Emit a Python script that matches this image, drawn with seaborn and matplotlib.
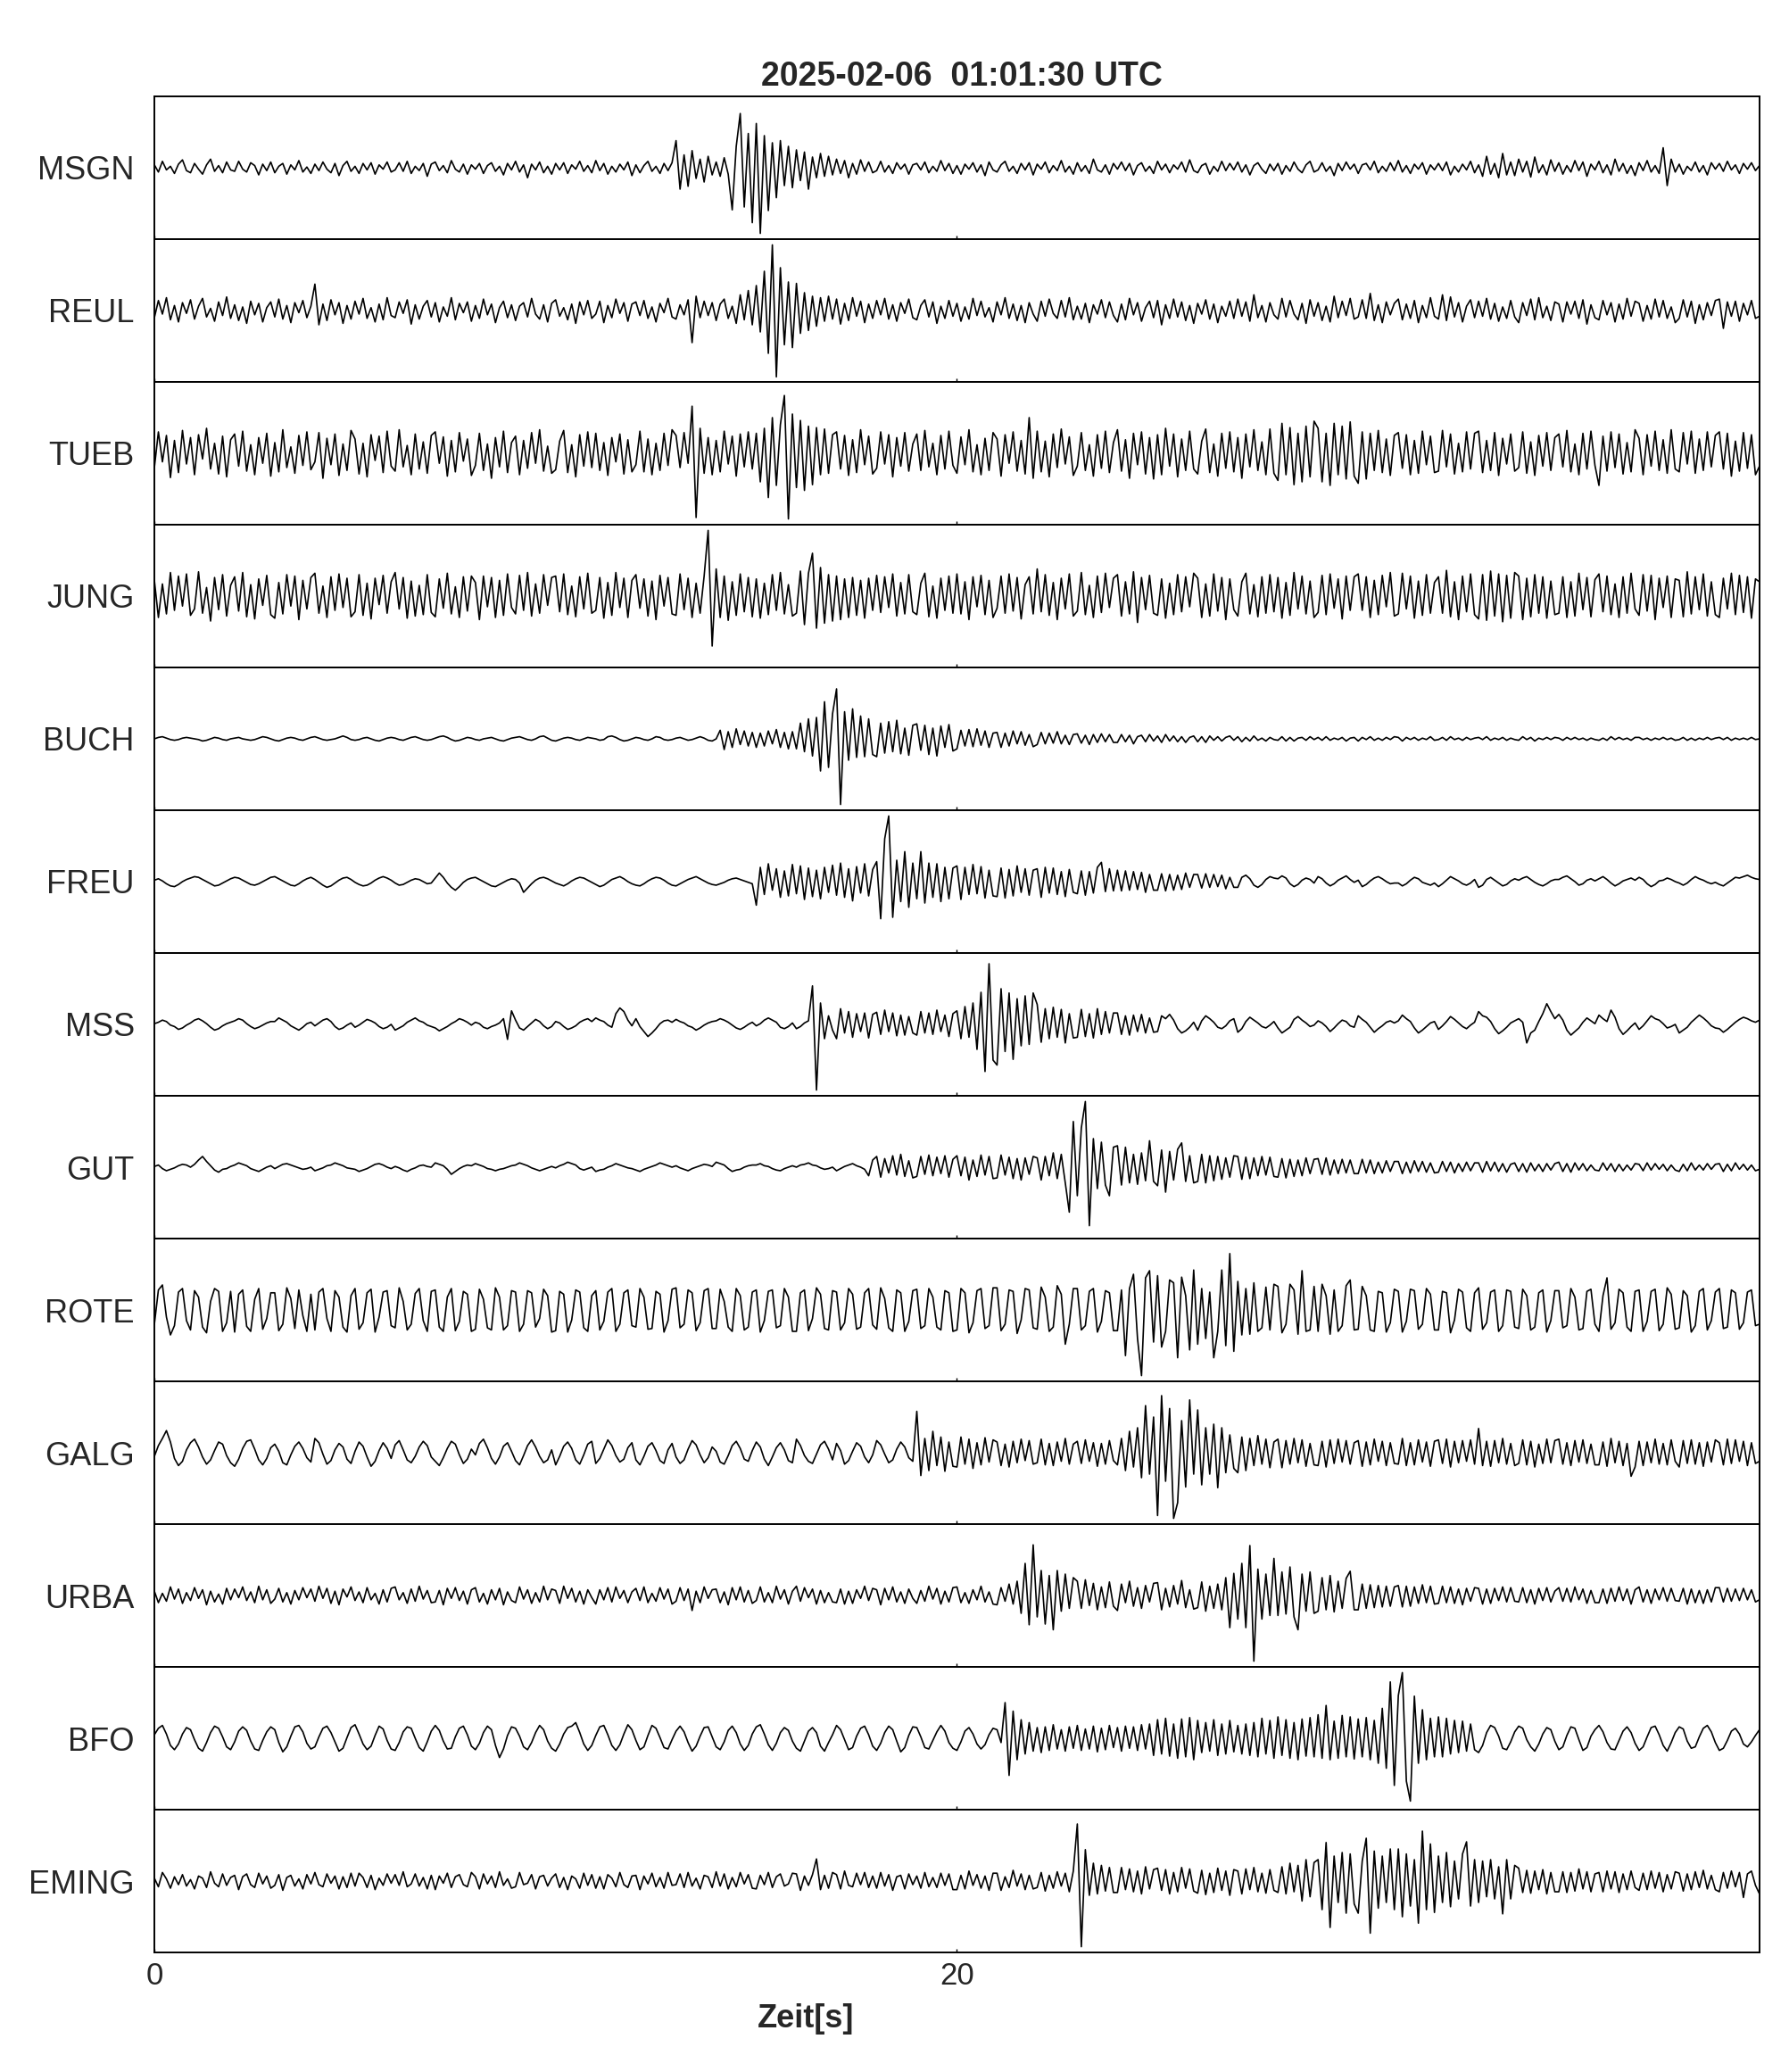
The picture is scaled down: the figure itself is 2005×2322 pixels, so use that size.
"""Seismogramm-Uebersicht 2025-02-06 01:01:30 UTC, 13 Stationen.

Spuren aus dem Bild abgelesen: eine Amplitude je 0.1 s, in Prozent der halben
Panelhoehe (jede Spur auf ihr Maximum normiert). Eine Zeile = 1 s.
"""

import matplotlib

matplotlib.use("Agg")
import matplotlib.pyplot as plt
import numpy as np
import pandas as pd
import seaborn as sns

DT = 0.1
T_MAX = 40    # Fensterlaenge [s]

STATIONS = ["MSGN", "REUL", "TUEB", "JUNG", "BUCH", "FREU", "MSS",
            "GUT", "ROTE", "GALG", "URBA", "BFO", "EMING"]
X_TICKS = [0, 20]

MSGN = [
    4, -6, 9, -3, 2, -8, 5, 11, -4, -7,
    6, -2, -9, 4, 12, -5, 3, -7, 8, -3,
    -5, 9, -2, -6, 7, 3, -10, 5, -4, 8,
    -7, 2, 6, -9, 4, -3, 10, -6, 1, -8,
    5, -4, 8, -2, -7, 6, -11, 3, 9, -5,
    2, -8, 6, -3, 7, -9, 4, -2, 8, -6,
    -3, 7, -5, 9, -8, 2, -4, 6, -12, 5,
    8, -4, 3, -7, 10, -2, -6, 5, -9, 4,
    -2, 6, -8, 3, 7, -5, 2, -10, 6, -3,
    9, -6, 4, -14, 5, -3, 8, -7, 2, -9,
    6, -3, 7, -8, 4, -2, 9, -5, 3, -7,
    10, -4, 6, -9, 2, -6, 5, -3, 8, -11,
    4, -7, 3, 9, -5, 2, -8, 6, -4, 7,
    38, -30, 18, -26, 24, -15, 12, -20, 16, -10,
    8, -12, 14, -9, -59, 30, 76, -55, 48, -77,
    62, -92, 45, -60, 35, -42, 38, -25, 30, -28,
    25, -18, 22, -30, 15, -14, 20, -12, 16, -10,
    12, -8, 10, -14, 6, -9, 11, -5, 8, -7,
    -4, 9, -6, 3, -8, 7, -2, 5, -9, 4,
    6, -3, 8, -7, 2, -5, 10, -4, 6, -8,
    3, -9, 5, -2, 7, -6, 4, -11, 8, -3,
    -6, 4, 9, -5, 2, -8, 6, -3, 7, -10,
    5, -2, 8, -7, 3, -4, 10, -6, 2, -9,
    7, -5, 3, -8, 12, -3, -6, 4, -9, 6,
    -2, 8, -4, 6, -10, 3, 7, -5, 2, -8,
    9, -3, 5, -7, 4, -2, 8, -6, 11, -4,
    -7, 3, 6, -9, 2, -5, 9, -4, 6, -3,
    8, -6, 4, -10, 3, 7, -2, -8, 5, -4,
    6, -9, 3, -5, 8, -2, -7, 4, 9, -6,
    -3, 7, -5, 2, -11, 6, -4, 8, -2, 5,
    -8, 4, 6, -3, 9, -7, 2, -5, 7, -4,
    10, -6, 3, -8, 5, -2, 7, -9, 4, -3,
    6, -4, 8, -10, 2, -6, 5, -3, 9, -7,
    4, -12, 16, -9, 6, -14, 20, -10, 8, -11,
    12, -6, 9, -13, 15, -7, 4, -10, 11, -5,
    7, -9, 3, -6, 10, -4, 8, -12, 5, -3,
    9, -7, 4, -10, 12, -5, 6, -8, 3, -11,
    7, -4, 10, -6, 3, -8, 28, -25, 12, -6,
    5, -9, 2, -4, 8, -6, 3, -10, 7, -2,
    6, -5, 9, -3, 4, -8, 6, -2, 7, -4,
    3,
]
REUL = [
    -10, 14, -5, 18, -13, 7, -16, 11, -4, 15,
    -12, 6, 17, -9, 3, -15, 12, -7, 19, -11,
    8, -14, 5, -18, 13, -6, 10, -16, 4, 12,
    -9, 16, -12, 7, -17, 11, -3, 14, -10, 6,
    37, -20, 9, -14, 15, -6, 11, -18, 7, -12,
    13, -5, 17, -11, 4, -16, 9, -13, 18, -7,
    -10, 12, -4, 15, -19, 8, -12, 6, 14, -9,
    11, -16, 5, -8, 18, -13, 10, -3, 12, -15,
    7, -11, 16, -6, 9, -17, 4, 13, -10, 8,
    -14, 6, 11, -9, 17, -5, -12, 8, -16, 10,
    15, -8, 4, -13, 9, -18, 12, -6, 14, -11,
    -5, 13, -17, 7, -10, 16, -4, 11, -15, 9,
    12, -7, 14, -11, 5, -16, 10, -3, 17, -9,
    -12, 8, -6, 15, -45, 20, -10, 13, -7, 11,
    -14, 9, 16, -11, 6, -18, 22, -13, 28, -20,
    35, -30, 55, -60, 92, -93, 60, -48, 40, -52,
    38, -32, 25, -28, 20, -22, 18, -15, 20, -12,
    16, -19, 10, -14, 18, -8, 13, -17, 9, -11,
    14, -6, 17, -12, 8, -15, 11, -4, 16, -10,
    -13, 7, 15, -9, 12, -18, 6, -11, 14, -8,
    10, -15, 5, -12, 17, -7, 13, -9, 4, -16,
    12, -6, 18, -11, 9, -14, 7, -17, 11, -5,
    -15, 13, -8, 16, -4, -11, 14, -9, 18, -13,
    6, -12, 10, -17, 8, -5, 15, -10, 12, -7,
    -16, 9, -13, 17, -6, 11, -15, 4, 13, -10,
    14, -20, 8, -11, 16, -9, 12, -14, 7, -18,
    10, -5, 15, -12, 9, -17, 6, -8, 13, -11,
    16, -8, 12, -15, 22, -10, 7, -16, 11, -6,
    -12, 17, -9, 14, -5, -13, 10, -18, 15, -8,
    11, -14, 6, -16, 20, -10, 13, -7, 17, -12,
    -9, 15, -11, 24, -14, 8, -17, 12, -6, 10,
    16, -13, 9, -11, 14, -17, 7, -10, 18, -8,
    -12, 22, -14, 19, -9, 11, -16, 6, 15, -10,
    13, -8, 17, -12, 10, -15, 5, -11, 14, -9,
    -17, 11, -7, 16, -13, 18, -10, 6, -14, 12,
    9, -16, 12, -5, 13, -11, 15, -19, 8, -10,
    -13, 14, -6, 11, -16, 9, -12, 17, -8, 13,
    10, -15, 7, -12, 16, -9, 14, -11, 5, -17,
    -11, 15, -9, 13, -18, 8, -13, 11, -7, 14,
    16, -25, 12, -8, 13, -15, 10, -6, 14, -11,
    -8,
]
TUEB = [
    -20, 30, -12, 25, -34, 18, -27, 32, -15, 22,
    -30, 26, -8, 35, -22, 14, -29, 24, -33, 19,
    27, -18, 31, -25, 12, -30, 22, -14, 28, -32,
    15, -26, 33, -20, 9, -28, 25, -17, 30, -23,
    -12, 29, -35, 21, -16, 27, -31, 13, -24, 32,
    20, -29, 14, -33, 26, -10, 24, -27, 31, -18,
    -25, 33, -19, 11, -30, 27, -22, 16, -28, 25,
    30, -14, 23, -32, 18, -26, 29, -11, 20, -31,
    -17, 28, -24, 13, -35, 22, -19, 31, -27, 15,
    24, -30, 18, -21, 29, -14, 33, -25, 10, -28,
    -23, 17, 32, -27, 12, -33, 26, -18, 30, -20,
    28, -24, 15, -31, 22, -12, 27, -29, 19, -26,
    -16, 31, -26, 20, -30, 14, -24, 28, -17, 33,
    25, -20, 29, -14, 66, -90, 35, -28, 22, -30,
    18, -26, 31, -15, 24, -32, 27, -19, 30, -22,
    28, -40, 35, -62, 50, -45, 40, 81, -92, 55,
    -48, 46, -52, 38, -44, 36, -30, 34, -28, 26,
    30, -22, 25, -31, 19, -27, 33, -16, 24, -29,
    -21, 30, -15, 26, -33, 22, -18, 29, -25, 13,
    27, -24, 32, -19, 14, -30, 25, -22, 31, -17,
    -28, 23, -16, 33, -26, 12, -30, 21, -24, 29,
    20, -32, 26, -14, 30, -25, 18, -29, 50, -35,
    31, -26, 17, -33, 27, -20, 34, -15, 23, -31,
    -18, 29, -24, 12, -32, 26, -21, 31, -27, 15,
    33, -25, 19, -35, 28, -16, 30, -29, 22, -36,
    26, -30, 35, -18, 27, -33, 20, -24, 31, -22,
    -29, 17, 34, -27, 13, -32, 28, -21, 30, -26,
    22, -35, 27, -19, 33, -24, 16, -30, 34, -28,
    -38, 42, -30, 36, -44, 28, -40, 38, -33, 45,
    35, -40, 28, -45, 42, -30, 38, -36, 44, -32,
    -42, 30, -36, 28, -24, 32, -27, 20, -31, 25,
    29, -21, 26, -30, 18, -28, 31, -16, 24, -27,
    -25, 32, -19, 27, -29, 14, -26, 30, -22, 28,
    31, -27, 18, -24, 29, -31, 21, -15, 27, -25,
    -20, 30, -28, 16, -31, 25, -18, 29, -24, 22,
    27, -19, 32, -26, 13, -30, 28, -22, 31, -17,
    -45, 24, -25, 30, -20, 27, -29, 15, -26, 33,
    21, -30, 26, -18, 31, -24, 19, -28, 33, -22,
    -26, 29, -15, 31, -28, 20, -24, 30, -19, 25,
    30, -22, 28, -32, 17, -25, 29, -21, 26, -30,
    -18,
]
JUNG = [
    22, -30, 17, -25, 33, -20, 28, -14, 31, -27,
    -18, 34, -24, 12, -35, 26, -19, 30, -28, 15,
    27, -21, 33, -29, 16, -32, 24, -13, 29, -26,
    -31, 19, -25, 30, -14, 28, -33, 22, -18, 26,
    32, -24, 14, -30, 27, -20, 31, -16, 25, -29,
    -22, 30, -27, 18, -32, 25, -12, 29, -24, 20,
    33, -18, 26, -31, 21, -28, 15, -26, 30, -23,
    -29, 24, -17, 32, -25, 13, -30, 27, -21, 28,
    19, -33, 28, -15, 26, -30, 22, -27, 31, -16,
    -25, 29, -20, 33, -28, 17, -24, 30, -13, 26,
    28, -22, 31, -26, 14, -29, 27, -18, 32, -24,
    -20, 26, -31, 19, -27, 33, -16, 25, -30, 22,
    30, -17, 24, -28, 21, -33, 29, -14, 26, -25,
    -27, 31, -19, 25, -30, 18, -24, 28, 92, -70,
    38, -30, 28, -34, 20, -27, 31, -22, 26, -29,
    24, -31, 18, -26, 30, -20, 33, -25, 16, -28,
    -24, 35, -40, 32, 60, -45, 40, -38, 30, -35,
    28, -33, 24, -30, 26, -27, 22, -31, 25, -20,
    29, -23, 27, -16, 31, -28, 19, -25, 30, -22,
    -26, 18, 32, -29, 14, -31, 25, -20, 28, -24,
    31, -25, 20, -33, 27, -15, 29, -26, 22, -30,
    -17, 28, -24, 31, -21, 26, -32, 16, 27, -25,
    38, -22, 30, -27, 19, -33, 25, -18, 31, -28,
    -21, 33, -26, 15, -30, 28, -23, 32, -16, 25,
    30, -28, 20, -25, 34, -37, 26, -19, 29, -24,
    -27, 24, -31, 18, -26, 30, -22, 27, -15, 32,
    25, -30, 17, -28, 31, -21, 26, -33, 24, -19,
    -28, 20, 32, -25, 16, -29, 27, -24, 30, -22,
    26, -31, 19, -27, 33, -18, 28, -25, 21, -30,
    -23, 29, -26, 31, -17, 24, -32, 28, -20, 27,
    31, -20, 27, -30, 22, -26, 29, -15, 33, -28,
    -25, 32, -18, 28, -31, 21, -27, 30, -24, 19,
    27, -24, 36, -29, 20, -33, 28, -22, 31, -26,
    -32, 30, -34, 35, -28, 31, -36, 29, -31, 33,
    28, -33, 25, -29, 30, -24, 27, -31, 21, -26,
    -24, 27, -30, 20, -28, 32, -19, 26, -29, 23,
    31, -22, 28, -26, 17, -30, 27, -24, 32, -18,
    -27, 30, -21, 29, -33, 25, -16, 28, -30, 24,
    22, -29, 34, -25, 27, -19, 31, -28, 20, -26,
    -30, 25, -18, 32, -26, 29, -23, 27, -31, 24,
    20,
]
BUCH = [
    0, 2, 3, 1, -1, -2, -1, 1, 2, 1,
    0, -1, -3, -2, 0, 2, 1, -1, -2, 0,
    1, 2, 0, -1, -2, -1, 1, 3, 2, 0,
    -2, -3, -1, 1, 2, 1, -1, -2, 0, 2,
    3, 1, -1, -2, -1, 0, 2, 4, 2, -1,
    -2, -1, 1, 2, 0, -2, -3, -1, 1, 2,
    1, -1, -2, 0, 2, 3, 1, -1, -2, -1,
    1, 3, 4, 2, -1, -3, -2, 0, 2, 1,
    -1, -2, 0, 1, 2, 0, -2, -3, -1, 1,
    2, 3, 1, -1, -2, 0, 3, 4, 1, -2,
    -3, -1, 1, 2, 1, -1, -2, 0, 2, 1,
    0, -2, -1, 3, 4, 2, -1, -3, -2, 0,
    2, 1, -1, -2, 0, 3, 2, -1, -2, -1,
    1, 2, 0, -2, -1, 1, 3, 1, -2, -3,
    0, 12, -15, 10, -12, 14, -8, 11, -10, 9,
    -12, 8, -10, 11, -7, 13, -12, 9, -14, 10,
    -14, 22, -18, 28, -24, 30, -45, 52, -40, 35,
    70, -92, 38, -30, 42, -26, 32, -25, 28, -22,
    -25, 22, -20, 24, -18, 26, -21, 15, -23, 19,
    21, -16, 19, -22, 15, -24, 18, -12, 20, -17,
    -14, 12, -10, 13, -11, 14, -9, 11, -12, 8,
    9, -12, 8, -10, 11, -7, 10, -9, 6, -11,
    -8, 9, -7, 8, -6, 10, -7, 5, -8, 6,
    7, -6, 5, -8, 6, -5, 7, -4, 6, -5,
    -5, 6, -4, 5, -7, 3, 5, -4, 6, -3,
    4, -5, 6, -3, 4, -4, 3, -5, 2, 4,
    -4, 3, -5, 4, -2, 3, -3, 2, 4, -2,
    3, -4, 2, -3, 4, -2, 1, -3, 2, -1,
    -2, 3, -3, 2, -3, 1, 2, -2, 3, -1,
    2, -2, 3, -2, 1, -1, 2, -3, 1, 2,
    -3, 2, -1, 3, -2, 1, -2, 2, -1, 3,
    2, -3, 2, -1, 2, -2, 1, -1, 3, -2,
    -1, 2, -2, 3, -1, 1, -2, 2, -1, 1,
    2, -1, 3, -2, 1, -1, 2, -2, 1, -1,
    -2, 3, -1, 2, -3, 1, -1, 2, -1, 2,
    1, -2, 2, -1, 2, -1, 1, -2, 1, -1,
    -2, 1, -2, 3, -1, 2, -1, 1, -2, 2,
    2, -1, 1, -2, 1, -1, 2, -1, 1, -2,
    -1, 2, -2, 1, -2, 1, -1, 2, -1, 1,
    2, -1, 2, -2, 1, -1, 1, -1, 2, -1,
    0,
]
FREU = [
    2, 4, 1, -3, -6, -7, -4, 0, 3, 5,
    7, 6, 3, 0, -3, -6, -5, -2, 1, 4,
    6, 5, 2, -1, -4, -5, -3, 0, 3, 6,
    7, 4, 1, -2, -5, -6, -3, 1, 4, 6,
    3, -1, -5, -8, -6, -2, 2, 5, 6, 3,
    -1, -4, -6, -5, -2, 2, 5, 7, 5, 2,
    -2, -5, -4, -1, 2, 4, 3, 0, -3, -2,
    5, 12, 6, -2, -8, -12, -7, -1, 3, 5,
    6, 3, 0, -3, -6, -7, -4, -1, 2, 4,
    3, -2, -15, -9, -3, 2, 5, 6, 4, 1,
    -2, -4, -6, -3, 1, 4, 6, 5, 2, -1,
    -4, -7, -5, -1, 3, 5, 7, 4, 0, -3,
    -5, -6, -3, 1, 4, 6, 5, 2, -2, -5,
    -6, -3, 0, 3, 5, 7, 4, 1, -2, -4,
    -5, -3, -1, 2, 4, 5, 3, 1, -1, -3,
    -33, 20, -18, 25, -12, 18, -22, 15, -20, 24,
    -17, 22, -25, 19, -21, 16, -24, 20, -15, 23,
    -19, 26, -22, 18, -27, 21, -16, 25, -20, 17,
    28, -52, 60, 92, -50, 30, -28, 42, -36, 26,
    -24, 42, -30, 26, -22, 25, -28, 20, -24, 19,
    22, -25, 20, -18, 24, -17, 21, -23, 16, -20,
    -21, 19, -23, 17, -20, 22, -15, 18, -19, 16,
    18, -22, 20, -16, 19, -18, 14, -21, 17, -15,
    -17, 15, -19, 14, -16, 20, 27, -14, 18, -13,
    16, -13, 15, -12, 14, -11, 13, -15, 10, -12,
    -12, 11, -13, 10, -12, 9, -11, 12, -8, 10,
    10, -9, 11, -8, 10, -7, 9, -10, 6, -8,
    -8, 6, 9, 4, -5, -8, -4, 3, 7, 5,
    4, 8, 5, -3, -7, -4, 2, 5, 3, -2,
    7, 4, -2, -6, -3, 2, 5, 8, 3, -1,
    2, -7, -4, 1, 5, 7, 4, 0, -3, -2,
    -2, -6, -3, 2, 6, 4, -1, -3, -5, -2,
    -7, -3, 2, 7, 4, 1, -3, -5, -2, 3,
    -8, -5, 3, 6, 2, -2, -6, -4, 1, 4,
    2, 5, 7, 3, -1, -4, -6, -3, 1, 3,
    3, 6, 8, 4, 0, -5, -3, 2, 4, 1,
    4, 7, 3, -2, -6, -3, 1, 3, 5, 2,
    6, 3, -3, -7, -4, 1, 2, 5, 3, 0,
    -2, -5, -2, 3, 7, 4, 2, -1, -3, -1,
    -4, -6, -2, 2, 6, 5, 7, 9, 6, 4,
    3,
]
MSS = [
    1, 3, 6, 4, -1, -3, -7, -5, -1, 2,
    6, 8, 5, 1, -4, -8, -6, -2, 1, 3,
    5, 8, 6, 1, -3, -6, -4, -1, 2, 4,
    4, 9, 6, 3, -2, -5, -8, -4, 1, 3,
    -2, 2, 6, 8, 4, -3, -7, -5, -1, 2,
    -4, -1, 3, 7, 5, 2, -3, -6, -4, 0,
    -8, -5, -2, 3, 6, 9, 5, 3, -1, -3,
    -5, -9, -6, -3, 1, 4, 8, 6, 3, -1,
    3, 1, -4, -6, -3, -1, 2, 8, -21, 19,
    6, -5, -8, -3, 2, 7, 4, -2, -6, -3,
    4, 2, -3, -7, -5, -2, 3, 6, 8, 4,
    9, 6, 4, -1, -4, 15, 23, 18, 6, -2,
    8, -3, -10, -17, -12, -6, 1, 5, 6, 3,
    7, 4, 2, -2, -4, -8, -5, -1, 2, 4,
    5, 8, 6, 3, -1, -5, -7, -4, 0, 3,
    -2, 1, 6, 9, 6, 3, -4, -6, -3, 2,
    -6, -3, 2, 5, 54, -92, 30, -20, 12, -8,
    -20, 22, -12, 18, -18, 15, -10, 16, -19, 14,
    17, -14, 20, -10, 16, -16, 13, -15, 11, -12,
    -15, 18, -12, 16, -14, 20, -10, 13, -17, 15,
    19, -20, 25, -18, 30, -35, 45, -66, 85, -50,
    -57, 50, -38, 44, -49, 36, -30, 40, -28, 44,
    28, -25, 22, -20, 24, -18, 21, -26, 15, -19,
    -18, 21, -17, 15, -19, 22, -14, 18, -12, 16,
    16, -14, 12, -15, 13, -10, 14, -12, 9, -11,
    -10, 12, 8, 14, 6, -6, -12, -9, -4, 3,
    -8, 5, 12, 8, 3, -4, -6, -2, 5, 8,
    -11, -6, 4, 10, 6, 2, -3, -5, -1, 4,
    -5, -12, -8, -4, 7, 11, 6, 2, -3, -1,
    5, 2, -3, -10, -5, 1, 6, 4, -2, -4,
    12, 7, 3, -4, -11, -6, -2, 3, 5, 2,
    5, 13, 8, 4, -5, -12, -8, -3, 2, 4,
    -7, -2, 4, 11, 7, 2, -3, -6, -1, 3,
    18, 12, 10, 4, -6, -13, -9, -4, 2, 5,
    8, 3, -26, -12, -8, 4, 15, 29, 18, 8,
    14, 6, -8, -15, -10, -5, 3, 9, 5, 1,
    13, 8, 4, 20, 10, -6, -14, -9, -3, 2,
    -7, -2, 5, 12, 8, 6, 1, -5, -3, 0,
    -12, -8, -4, 3, 8, 13, 9, 4, -2, -5,
    -6, -11, -7, -2, 3, 7, 10, 8, 5, 3,
    6,
]
GUT = [
    1, 3, -2, -5, -3, -1, 2, 4, 3, 0,
    4, 10, 15, 8, 2, -4, -7, -3, -2, 1,
    3, 6, 4, 2, -2, -4, -6, -3, 0, 2,
    -2, 1, 4, 5, 3, 1, -1, -3, -2, 0,
    -5, -3, -1, 2, 3, 6, 4, 2, -1, -2,
    -3, -6, -4, -2, 1, 4, 5, 3, 0, -2,
    1, -1, -4, -6, -3, -1, 2, 3, 1, 0,
    6, 4, 2, -3, -10, -6, -2, 1, 3, 2,
    5, 3, 1, -2, -3, -5, -3, -2, 0, 2,
    3, 6, 4, 2, -1, -3, -5, -3, -1, 1,
    -1, 2, 4, 7, 5, 3, -2, -4, -2, 0,
    -6, -4, -3, 0, 2, 5, 3, 1, -1, -2,
    -4, -6, -3, -1, 1, 3, 6, 4, 2, 0,
    2, -1, -3, -5, -2, 0, 2, 4, 3, 1,
    7, 5, 3, -2, -6, -4, -3, 0, 2, 3,
    3, 5, 2, 1, -2, -4, -5, -2, 0, 2,
    0, 3, 4, 6, 3, 2, -1, -3, -2, 0,
    -5, -2, 1, 3, 5, 2, 0, -3, -12, 10,
    15, -14, 12, -8, 16, -11, 18, -13, 9, -15,
    -13, 15, -10, 17, -12, 14, -9, 16, -14, 11,
    16, -12, 14, -18, 10, -13, 17, -11, 15, -16,
    -15, 17, -11, 14, -16, 12, -18, 13, -10, 15,
    13, -18, 15, -12, 20, -16, 18, -22, -63, 64,
    -40, 55, 92, -82, 40, -30, 35, -25, -40, 28,
    30, -25, 28, -22, 18, -24, 20, -19, 37, -20,
    -26, 24, -35, 22, -18, 25, 34, -20, 16, -22,
    -20, 18, -22, 16, -19, 15, -17, 13, -14, 16,
    15, -17, 14, -16, 13, -12, 15, -11, 14, -13,
    -14, 12, -15, 11, -13, 10, -12, 13, -9, 11,
    12, -10, 13, -11, 10, -9, 11, -8, 10, -9,
    -9, 11, -8, 10, -9, 7, -8, 9, -6, 8,
    8, -9, 7, -8, 9, -6, 8, -7, 6, -8,
    -7, 8, -6, 7, -8, 5, -6, 7, -5, 6,
    6, -7, 8, -5, 7, -6, 5, -7, 4, 6,
    -6, 5, -7, 6, -5, 4, -6, 5, -4, 5,
    7, -6, 5, -7, 6, -4, 5, -5, 3, -4,
    -5, 6, -4, 5, -6, 4, -5, 3, -4, 5,
    4, -5, 6, -4, 5, -3, 4, -5, 3, -4,
    -6, 4, -5, 6, -4, 3, -4, 5, -3, 4,
    5, -6, 4, -5, 6, -3, 4, -4, 3, -5,
    -3,
]
ROTE = [
    -20, 28, 35, -10, -35, -22, 25, 30, -15, -28,
    27, 18, -24, -32, 12, 30, 26, -30, -18, 26,
    -31, 22, 28, -23, -30, 15, 30, -27, -12, 24,
    24, -29, -20, 31, 16, -26, 28, -8, -30, 22,
    -28, 25, 30, -12, -30, 27, 18, -24, -31, 20,
    30, -27, -18, 24, 29, -31, -10, 25, 27, -22,
    -25, 31, 12, -28, -20, 23, 30, -15, -30, 26,
    28, -24, -30, 18, 30, -29, -16, 26, 22, -30,
    -27, 29, 15, -25, -28, 31, 18, -28, -22, 27,
    25, -30, -20, 27, 24, -24, -12, 29, 20, -31,
    -29, 26, 22, -31, -14, 28, 25, -25, -30, 20,
    27, -28, -16, 25, 30, -30, -20, 24, 28, -22,
    -24, 30, 18, -27, -26, 26, 22, -31, -15, 29,
    31, -25, -20, 28, 24, -29, -18, 27, 30, -26,
    -26, 29, 12, -24, -30, 30, 20, -28, -24, 25,
    28, -31, -15, 26, 28, -25, -22, 30, 18, -30,
    -30, 24, 28, -29, -12, 31, 22, -26, -28, 27,
    25, -28, -18, 30, 22, -27, -24, 24, 30, -21,
    -27, 31, 16, -25, -30, 28, 24, -30, -16, 27,
    29, -26, -22, 30, 18, -24, -28, 27, 24, -30,
    -28, 30, 24, -32, -18, 27, 30, -26, -22, 31,
    31, -29, -20, 28, 26, -33, -14, 30, 28, -25,
    -27, 32, 18, -30, -24, 34, 22, -48, -20, 30,
    30, -28, -22, 26, 30, -31, -16, 27, 24, -29,
    -29, 28, -64, 30, 50, -40, -92, 45, 55, -45,
    48, -52, -30, 42, 38, -67, 46, 20, -56, 56,
    -48, 30, -40, 25, -67, -30, 56, -50, 79, -58,
    40, -35, 30, -34, 38, -30, -25, 32, -28, 36,
    33, -32, -20, 36, 28, -34, 55, -30, -28, 33,
    -30, 36, 20, -34, 28, -30, -22, 34, 42, -28,
    -27, 33, 20, -28, -30, 26, 24, -31, -18, 29,
    26, -31, -16, 29, 27, -27, -20, 30, 22, -28,
    -28, 26, 24, -32, -14, 29, 25, -25, -30, 24,
    31, -27, -18, 25, 28, -30, -22, 28, 26, -24,
    -26, 29, 20, -28, -24, 24, 28, -31, -15, 27,
    27, -25, -22, 30, 18, -28, -26, 26, 29, -20,
    -30, 20, 45, -27, -18, 29, 24, -24, -30, 26,
    28, -30, -16, 26, 29, -29, -20, 31, 22, -27,
    -25, 27, 20, -31, -22, 26, 30, -28, -15, 25,
    30, -26, -24, 28, 24, -27, -18, 25, 28, -22,
    -20,
]
GALG = [
    -5, 10, 20, 31, 15, -8, -18, -12, 4, 14,
    19, 8, -6, -16, -10, 3, 15, 12, -4, -14,
    -19, -9, 6, 16, 18, 5, -10, -17, -8, 7,
    12, 2, -14, -17, -3, 9, 15, 6, -7, -13,
    20, 14, -2, -16, -11, 4, 13, 8, -9, -15,
    2, 15, 9, -6, -19, -12, 3, 14, 6, -8,
    11, 17, 4, -10, -14, -5, 8, 16, 10, -6,
    -12, -18, -7, 6, 16, 12, -3, -15, -9, 5,
    -3, 13, 19, 7, -8, -16, -6, 9, 14, 2,
    -11, -17, -4, 10, 18, 8, -5, -14, -10, 4,
    -17, -5, 9, 15, 6, -10, -16, -3, 12, 16,
    -15, -8, 5, 18, 10, -4, -13, -9, 7, 14,
    -10, -17, -5, 9, 14, 3, -11, -15, 4, 13,
    -6, -15, -10, 5, 17, 11, -3, -14, -7, 8,
    2, -13, -16, -4, 10, 16, 6, -9, -12, 3,
    15, 8, -9, -18, -6, 7, 14, 4, -11, -14,
    19, 10, -4, -12, -15, -2, 11, 16, 5, -10,
    13, 3, -16, -11, 2, 14, 9, -6, -14, -3,
    17, 11, -2, -14, -10, 5, 15, 8, -7, -12,
    58, -32, 20, -25, 30, -18, 22, -26, 15, -19,
    -20, 22, -16, 19, -22, 14, -17, 21, -13, 18,
    15, -18, 12, -20, 16, -14, 19, -11, 17, -16,
    -14, 19, -17, 13, -18, 15, -12, 20, -16, 12,
    16, -15, 18, -12, 14, -19, 13, -16, 17, -11,
    -17, 20, -25, 30, -20, 35, -35, 66, -30, 50,
    -88, 80, -40, 62, -92, -70, 45, -48, 74, -30,
    60, -45, 35, -30, 40, -49, 35, -28, 25, -22,
    -28, 22, -25, 20, -18, 24, -16, 19, -21, 15,
    19, -21, 17, -16, 20, -14, 18, -19, 13, -17,
    -18, 16, -20, 18, -15, 19, -13, 17, -16, 14,
    17, -19, 15, -17, 19, -12, 16, -18, 14, -15,
    -16, 20, -18, 14, -17, 18, -13, 15, -19, 16,
    18, -15, 19, -20, 16, -14, 17, -12, 18, -16,
    34, -18, 16, -19, 17, -14, 20, -16, 13, -18,
    -15, 18, -17, 16, -20, 12, -15, 19, -14, 17,
    19, -16, 14, -18, 17, -13, 18, -15, 12, -17,
    -17, 15, -19, 20, -14, 16, -18, 13, -33, -20,
    16, -18, 15, -14, 19, -16, 13, -17, 18, -12,
    -20, 17, -15, 18, -16, 14, -19, 15, -13, 18,
    14, -17, 19, -15, 18, -12, 16, -18, 14, -15,
    -12,
]
URBA = [
    6, -10, 3, -8, 12, -5, 9, -11, 4, -7,
    11, -4, 8, -13, 6, -9, 2, -12, 10, -6,
    9, -3, 12, -7, 5, -10, 13, -6, 8, -11,
    -5, 10, -9, 4, -12, 7, -6, 11, -3, 9,
    -8, 13, -4, 10, -11, 6, -13, 9, -2, 12,
    -7, 5, -10, 11, -6, 3, -12, 8, -9, 10,
    12, -6, 4, -11, 9, -8, 13, -5, 7, -10,
    -9, 7, -13, 10, -4, 11, -7, 6, -12, 8,
    11, -9, 3, -12, 8, -6, 10, -13, 5, -7,
    -10, 12, -5, 8, -11, 4, -9, 13, -6, 9,
    7, -11, 13, -4, 10, -9, 6, -12, 8, -3,
    -12, 8, -6, 11, -9, 12, -4, 7, -10, 5,
    10, -7, 12, -10, 3, -8, 11, -5, 9, -12,
    -8, 11, -7, 9, -21, 6, -10, 12, -4, 8,
    9, -10, 5, -13, 11, -6, 12, -9, 7, -11,
    -7, 12, -9, 4, -10, 13, -5, 8, -12, 6,
    13, -8, 11, -3, 9, -12, 7, -10, 4, -9,
    -10, 9, -12, 6, -11, 8, -4, 13, -7, 10,
    8, -13, 10, -6, 12, -9, 5, -11, 9, -4,
    -11, 7, -8, 13, -5, 10, -12, 6, -9, 11,
    12, -10, 4, -11, 8, -6, 13, -9, 5, -12,
    -13, 11, -8, 16, -12, 20, -25, 45, -41, 71,
    -30, 35, -40, 28, -48, 35, -22, 30, -18, 25,
    20, -18, 22, -14, 17, -20, 12, -17, 19, -15,
    -21, 16, -10, 20, -15, 11, -18, 14, -9, 17,
    18, -20, 10, -16, 14, -12, 21, -17, 8, -19,
    -17, 19, -22, 13, -18, 16, -20, 25, -45, 31,
    -33, 45, -45, 70, -92, 37, -33, 30, -28, 52,
    -28, 33, -26, 40, -30, -48, 30, -22, 33, -25,
    -22, 25, -20, 28, -23, 20, -18, 24, 34, -20,
    -20, 16, -18, 15, -17, 14, -16, 13, -15, 12,
    14, -16, 13, -15, 12, -11, 15, -10, 13, -12,
    -11, 13, -10, 12, -11, 9, -13, 10, -8, 11,
    10, -12, 9, -11, 10, -7, 12, -9, 11, -8,
    -9, 11, -10, 8, -12, 10, -7, 11, -9, 6,
    11, -8, 10, -9, 12, -6, 9, -11, 7, -10,
    -10, 9, -11, 10, -8, 12, -7, 9, -12, 8,
    12, -9, 8, -11, 9, -6, 11, -8, 10, -7,
    -8, 10, -12, 9, -10, 7, -11, 8, -9, 11,
    11, -9, 10, -8, 9, -7, 10, -6, 8, -9,
    -6,
]
BFO = [
    5, 14, 18, 6, -10, -16, -8, 6, 15, 12,
    -2, -14, -18, -6, 8, 17, 14, 2, -12, -16,
    -5, 10, 16, 11, -4, -15, -17, -3, 9, 16,
    12, -6, -19, -12, 3, 16, 18, 9, -7, -15,
    -12, 2, 14, 17, 8, -5, -18, -14, 1, 15,
    19, 6, -8, -16, -11, 4, 17, 13, -3, -15,
    -17, -6, 9, 16, 14, 0, -13, -18, -5, 10,
    18, 11, -4, -15, -14, 2, 14, 17, 5, -11,
    -16, -7, 8, 17, 12, -10, -27, -15, 4, 16,
    14, 3, -12, -16, -6, 8, 18, 12, -4, -14,
    -18, -8, 6, 15, 17, 22, 8, -8, -17, -10,
    4, 16, 18, 5, -10, -17, -9, 6, 19, 12,
    -3, -16, -12, 4, 18, 14, 1, -13, -15, -2,
    10, 17, 9, -6, -18, -11, 3, 15, 16, 2,
    -12, -16, -5, 11, 17, 8, -8, -17, -10, 6,
    16, 19, 6, -9, -17, -7, 8, 15, 11, -4,
    -14, -18, -4, 10, 15, 8, -11, -18, -6, 5,
    18, 12, -2, -16, -13, 3, 14, 17, 5, -11,
    -17, -7, 8, 17, 12, -4, -19, -13, 4, 16,
    15, 2, -13, -15, -3, 9, 18, 10, -6, -14,
    -17, -5, 10, 15, 6, -8, -15, -9, 5, 14,
    12, -6, 50, -52, 38, -30, 26, -22, 22, -18,
    15, -20, 16, -17, 19, -15, 12, -18, 16, -14,
    18, -17, 13, -15, 17, -19, 14, -16, 18, -13,
    15, -18, 17, -14, 16, -17, 19, -15, 20, -24,
    26, -22, 28, -25, 20, -28, 27, -26, 29, -30,
    25, -20, 22, -18, 26, -24, 20, -22, 25, -19,
    18, -22, 20, -24, 22, -26, 28, -22, 25, -28,
    30, -24, 26, -28, 22, -30, 27, -25, 29, -26,
    33, -28, 46, -30, 24, -28, 32, -26, 30, -29,
    27, -26, 29, -30, 25, -35, 42, -42, 79, -66,
    60, 92, -60, -88, 59, -35, 40, -30, 28, -26,
    30, -26, 28, -22, 25, -20, 24, -18, 20, -16,
    -20, -10, 8, 18, 15, 3, -14, -16, -5, 9,
    17, 14, -2, -12, -18, -8, 6, 15, 12, -4,
    -16, -12, 4, 16, 14, -2, -17, -13, 3, 12,
    18, 9, -6, -15, -16, -3, 10, 16, 8, -7,
    -17, -12, 2, 15, 17, 5, -10, -18, -6, 8,
    16, 13, -4, -14, -12, 2, 14, 18, 9, -6,
    -17, -14, -3, 10, 14, 6, -8, -12, -5, 4,
    12,
]
EMING = [
    4, -8, 12, 3, -10, 6, -5, 9, -7, 2,
    -11, 7, 4, -9, 13, -3, -8, 10, -6, 5,
    8, -12, 6, 10, -5, -9, 11, -4, 7, -10,
    -6, 9, -13, 5, 8, -7, 3, -11, 9, -4,
    12, -5, -8, 10, -3, 7, -11, 6, -9, 11,
    -7, 11, 5, -9, 8, -12, 4, -6, 10, -3,
    9, -6, 13, -8, -4, 10, -7, 5, -11, 8,
    -12, 7, -3, 11, -9, 6, 9, -5, -8, 12,
    6, -11, 10, -4, 7, -9, 13, -6, 3, -10,
    -8, 12, -5, -3, 9, -11, 6, 8, -7, 4,
    10, -9, 5, -12, 7, 3, -10, 11, -6, 9,
    -10, 6, -11, 9, 4, -8, 12, -5, -9, 7,
    8, -12, 7, -4, 11, -8, 5, -10, 12, -6,
    -5, 10, -9, 12, -7, 4, -11, 8, 6, -9,
    13, -7, 10, -11, 5, -8, 12, -4, 9, -10,
    -11, 8, -5, 12, -9, 6, 10, -7, -4, 11,
    10, -13, 7, -6, 9, 31, -12, 8, -10, 12,
    9, -11, 14, -6, -8, 11, -5, 12, -9, 7,
    -10, 12, -7, 9, -13, 6, 8, -11, 10, -5,
    7, -10, 12, -8, 5, -9, 11, -6, 10, -12,
    -12, 8, -11, 14, -6, 9, -10, 7, -13, 11,
    11, -13, 6, -9, 15, -7, 10, -12, 8, -11,
    -9, 12, -14, 8, -10, 13, -7, 11, -15, 14,
    80, -92, 44, -20, 25, -18, 22, -14, 19, -16,
    -16, 19, -12, 17, -15, 14, -18, 20, -11, 16,
    18, -13, 16, -18, 12, -15, 19, -10, 17, -14,
    -17, 15, -19, 11, -16, 18, -13, 14, -20, 16,
    14, -18, 17, -12, 19, -15, 11, -17, 16, -13,
    -16, 20, -18, 25, -15, 22, -28, 30, -22, 26,
    30, -40, 54, -65, 35, -30, 40, -45, 38, -32,
    -45, 28, 60, -73, 42, -38, 35, -30, 45, -40,
    45, -50, 38, -35, 30, -59, 70, -40, 52, -44,
    35, -30, 40, -36, 28, -25, 38, 55, -35, 30,
    -30, 28, -22, 30, -25, 20, -46, 30, -25, 22,
    18, -16, 15, -17, 14, -12, 16, -18, 12, -15,
    -15, 13, -16, 12, -14, 17, -11, 13, -15, 10,
    12, -15, 14, -11, 13, -16, 10, -12, 14, -9,
    -13, 11, -12, 14, -10, 12, -15, 9, -11, 13,
    11, -14, 10, -12, 13, -9, 15, -11, 8, -12,
    -15, 12, -10, 14, -8, 12, -23, 10, 14, -6,
    -18,
]
TRACES = [MSGN, REUL, TUEB, JUNG, BUCH, FREU, MSS,
          GUT, ROTE, GALG, URBA, BFO, EMING]

sns.set_theme(style="white")
plt.rcParams["font.family"] = ["Liberation Sans", "DejaVu Sans"]

fig, axes = plt.subplots(len(STATIONS), 1, figsize=(20.05, 23.22), dpi=100,
                         sharex=True)
fig.subplots_adjust(left=0.0863, right=0.9835, top=0.9535, bottom=0.0577,
                    hspace=0)

for ax, name, vals in zip(axes, STATIONS, TRACES):
    df = pd.DataFrame({"t": np.arange(len(vals)) * DT, "amp": vals})
    sns.lineplot(data=df, x="t", y="amp", ax=ax, color="black", linewidth=1.2)
    ax.set_xlim(0, T_MAX)
    ax.set_ylim(-100, 100)
    ax.set_yticks([])
    ax.set_xlabel("")
    ax.set_ylabel(name, rotation=0, ha="right", va="center_baseline",
                  fontsize=26, labelpad=16)
    for sp in ax.spines.values():
        sp.set_linewidth(1.4)
        sp.set_color("black")
    ax.set_xticks(X_TICKS)
    ax.tick_params(axis="x", direction="in", length=3, width=1, color="black",
                   labelsize=25, pad=7, bottom=True, top=False)

fig.text(0.5377, 1 - 82 / 2322, "2025-02-06  01:01:30 UTC", ha="center",
         va="center_baseline", fontsize=27, fontweight="bold")
fig.text(903 / 2005, 1 - 2258 / 2322, "Zeit[s]", ha="center",
         va="center_baseline", fontsize=26, fontweight="bold")

fig.savefig("out.png", dpi=100, facecolor="white")
plt.close(fig)
